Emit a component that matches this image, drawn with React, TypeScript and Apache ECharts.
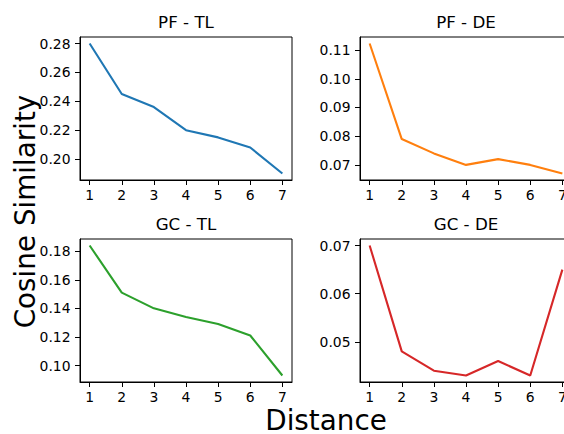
import React, { useEffect, useRef } from "react";
import * as echarts from "echarts";

const distances = [1, 2, 3, 4, 5, 6, 7];
const xTicks = [1, 2, 3, 4, 5, 6, 7];

const pfTl = [0.28, 0.245, 0.236, 0.22, 0.215, 0.208, 0.19];
const pfDe = [0.1123, 0.079, 0.074, 0.07, 0.072, 0.07, 0.067];
const gcTl = [0.184, 0.151, 0.14, 0.134, 0.129, 0.121, 0.093];
const gcDe = [0.07, 0.048, 0.044, 0.043, 0.046, 0.043, 0.065];

const pfTlTicks = [0.2, 0.22, 0.24, 0.26, 0.28];
const pfDeTicks = [0.07, 0.08, 0.09, 0.1, 0.11];
const gcTlTicks = [0.1, 0.12, 0.14, 0.16, 0.18];
const gcDeTicks = [0.05, 0.06, 0.07];

const titles = ["PF - TL", "PF - DE", "GC - TL", "GC - DE"];
const colors = ["#1f77b4", "#ff7f0e", "#2ca02c", "#d62728"];

const FONT = "DejaVu Sans";

function padRange(vals: number[]) {
  const mn = Math.min(...vals);
  const mx = Math.max(...vals);
  const p = (mx - mn) * 0.05;
  return [mn - p, mx + p];
}

export default function App() {
  const ref = useRef<HTMLDivElement>(null);
  useEffect(() => {
    document.body.style.margin = "0";
    const chart = echarts.init(ref.current!, null, { renderer: "svg" });
    const panels = [
      { data: pfTl, ticks: pfTlTicks, left: 80, top: 37 },
      { data: pfDe, ticks: pfDeTicks, left: 360, top: 37 },
      { data: gcTl, ticks: gcTlTicks, left: 80, top: 239 },
      { data: gcDe, ticks: gcDeTicks, left: 360, top: 239 },
    ];
    const W = 212;
    const H = 143;
    const [xmin, xmax] = padRange(distances);
    const grid = panels.map((p) => ({
      left: p.left,
      top: p.top,
      width: W,
      height: H,
      show: true,
      borderColor: "#000",
      borderWidth: 1,
      backgroundColor: "transparent",
      containLabel: false,
    }));
    const xAxis = panels.map((p, i) => ({
      type: "value",
      gridIndex: i,
      min: xmin,
      max: xmax,
      axisLine: { show: true, lineStyle: { color: "#000", width: 1 } },
      axisTick: { show: true, length: 5, customValues: xTicks, lineStyle: { color: "#000", width: 1 } },
      axisLabel: {
        customValues: xTicks,
        margin: 8,
        fontFamily: FONT,
        fontSize: 13.9,
        color: "#000",
      },
      splitLine: { show: false },
    }));
    const yAxis = panels.map((p, i) => {
      const [mn, mx] = padRange(p.data);
      return {
        type: "value",
        gridIndex: i,
        min: mn,
        max: mx,
        axisLine: { show: true, lineStyle: { color: "#000", width: 1 } },
        axisTick: { show: true, length: 5, customValues: p.ticks, lineStyle: { color: "#000", width: 1 } },
        axisLabel: {
          customValues: p.ticks,
          margin: 9.5,
          fontFamily: FONT,
          fontSize: 13.9,
          color: "#000",
          formatter: (v: number) => v.toFixed(2),
        },
        splitLine: { show: false },
      };
    });
    const series = panels.map((p, i) => ({
      type: "line",
      xAxisIndex: i,
      yAxisIndex: i,
      data: distances.map((d, j) => [d, p.data[j]]),
      showSymbol: false,
      symbol: "none",
      lineStyle: { color: colors[i], width: 2.1 },
      itemStyle: { color: colors[i] },
    }));
    const graphic: any[] = panels.map((p, i) => ({
      type: "text",
      x: p.left + W / 2,
      y: p.top - 15,
      style: {
        text: titles[i],
        fontFamily: FONT,
        fontSize: 16.7,
        fill: "#000",
        align: "center",
        verticalAlign: "middle",
      },
    }));
    graphic.push({
      type: "text",
      x: 326,
      y: 420,
      style: {
        text: "Distance",
        fontFamily: FONT,
        fontSize: 27.8,
        lineHeight: 22,
        fill: "#000",
        align: "center",
        verticalAlign: "middle",
      },
    });
    graphic.push({
      type: "text",
      x: 25,
      y: 211.5,
      rotation: Math.PI / 2,
      style: {
        text: "Cosine Similarity",
        fontFamily: FONT,
        fontSize: 27.8,
        fill: "#000",
        align: "center",
        verticalAlign: "middle",
      },
    });
    chart.setOption({
      animation: false,
      backgroundColor: "#fff",
      grid,
      xAxis,
      yAxis,
      series,
      graphic,
    });
    return () => chart.dispose();
  }, []);
  return (
    <div style={{ width: 564, height: 434, overflow: "hidden", position: "relative" }}>
      <div ref={ref} style={{ width: 600, height: 434 }} />
    </div>
  );
}
